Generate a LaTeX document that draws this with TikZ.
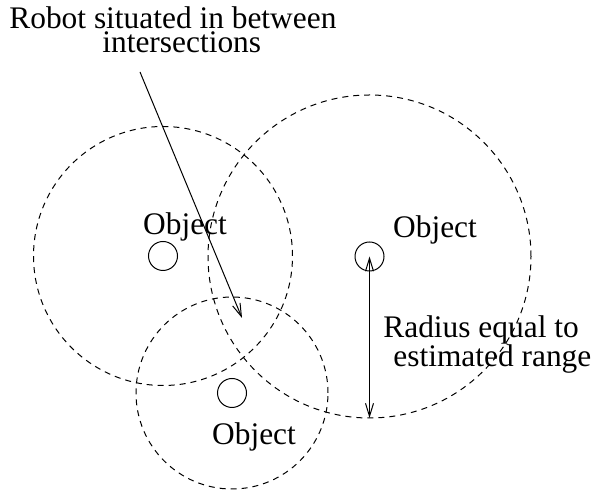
\documentclass[tikz,border=0pt]{standalone}
\usepackage{fontspec}
\setmainfont{Liberation Serif}
\usetikzlibrary{arrows.meta}

\begin{document}
\begin{tikzpicture}[
  x=0.5pt,y=-0.5pt,
  rangecirc/.style={draw,dash pattern=on 3pt off 2.5pt,line width=0.5pt},
  obj/.style={draw,circle,line width=0.5pt,minimum size=14.5pt,inner sep=0pt},
  lbl/.style={font=\fontsize{15.7}{17}\selectfont,inner sep=0pt,anchor=base},
  note/.style={font=\fontsize{15.7}{17}\selectfont,inner sep=0pt,anchor=base west},
  arr/.style={-{Straight Barb[length=6.5pt,width=4pt]},line width=0.5pt},
  dbl/.style={{Straight Barb[length=6.5pt,width=4pt]}-{Straight Barb[length=6.5pt,width=4pt]},line width=0.5pt}
]
\useasboundingbox (0,0) rectangle (595,490);
\node[obj] (objL) at (163,256) {};
\node[obj] (objR) at (369.5,256.5) {};
\node[obj] (objB) at (232,393) {};
\draw[rangecirc] (objL.center) circle (64.75pt);
\draw[rangecirc] (objR.center) circle (80.75pt);
\draw[rangecirc] (objB.center) circle (48pt);
\node[lbl] (labL) at (185,235) {Object};
\node[lbl] (labR) at (435,238) {Object};
\node[lbl] (labB) at (254,445) {Object};
\node[note] (robot1) at (9,29) {Robot situated in between};
\node[note] (robot2) at (102,53) {intersections};
\node[note] (rad1) at (383,338) {Radius equal to};
\node[note] (rad2) at (393,367) {estimated range};
\coordinate (start) at (140,72);
\coordinate (robot) at (242,318);
\coordinate (rim) at (369.5,418);
\draw[arr] (start) -- (robot);
\draw[dbl] (objR.center) -- (rim);
\end{tikzpicture}
\end{document}
